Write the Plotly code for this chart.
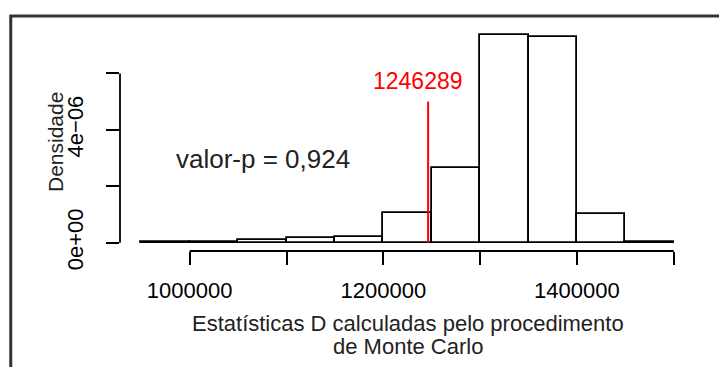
import plotly.graph_objects as go

# ---- data ----
bin_edges = [950000, 1000000, 1050000, 1100000, 1150000, 1200000, 1250000,
             1300000, 1350000, 1400000, 1450000, 1500000]
density = [0.02e-6, 0.02e-6, 0.10e-6, 0.15e-6, 0.21e-6, 1.06e-6, 2.65e-6,
           7.35e-6, 7.29e-6, 1.00e-6, 0.03e-6]
observed_stat = 1246289
p_value_text = "valor-p = 0,924"
x_tickvals = [1000000, 1100000, 1200000, 1300000, 1400000, 1500000]
x_ticktext = ["1000000", "", "1200000", "", "1400000", ""]
y_tickvals = [0, 2e-6, 4e-6, 6e-6]
y_ticktext = ["0e+00", "", "4e\u221206", ""]
x_title_lines = ["Estatísticas D calculadas pelo procedimento", "de Monte Carlo"]
y_title = "Densidade"
stat_line_top = 5e-6
pvalue_pos = (1076000, 2.95e-6)

centers = [(a + b) / 2 for a, b in zip(bin_edges[:-1], bin_edges[1:])]
widths = [b - a for a, b in zip(bin_edges[:-1], bin_edges[1:])]

xmin, xmax = bin_edges[0], bin_edges[-1]
xspan = xmax - xmin
ymax = max(density)

FONT = "Liberation Sans, Arial, sans-serif"

fig = go.Figure()
fig.add_trace(go.Bar(
    x=centers, y=density, width=widths,
    marker=dict(color="white", line=dict(color="black", width=1.8)),
    showlegend=False, hoverinfo="skip",
))

fig.update_layout(
    width=719, height=367,
    margin=dict(l=120, r=24, t=27, b=116),
    paper_bgcolor="white", plot_bgcolor="white",
    font=dict(family=FONT, size=22, color="black"),
    bargap=0,
    xaxis=dict(
        range=[xmin - 0.04 * xspan, xmax + 0.04 * xspan],
        showgrid=False, zeroline=False, showline=False,
        tickmode="array", tickvals=x_tickvals, ticktext=x_ticktext,
        ticks="outside", ticklen=13, tickwidth=1.8, tickcolor="black",
        tickfont=dict(size=22, color="black", family=FONT),
        ticklabelstandoff=7,
    ),
    yaxis=dict(
        range=[-0.04 * ymax, 1.04 * ymax],
        showgrid=False, zeroline=False, showline=False,
        tickmode="array", tickvals=y_tickvals, ticktext=y_ticktext,
        ticks="outside", ticklen=13, tickwidth=1.8, tickcolor="black",
        tickangle=-90,
        tickfont=dict(size=22, color="black", family=FONT),
        ticklabelstandoff=14,
    ),
)

shapes = []
# axis lines (R style, spanning only the ticks)
shapes.append(dict(type="line", xref="x", yref="paper",
                   x0=x_tickvals[0], x1=x_tickvals[-1], y0=0, y1=0,
                   line=dict(color="black", width=1.8)))
shapes.append(dict(type="line", xref="paper", yref="y",
                   x0=0, x1=0, y0=y_tickvals[0], y1=y_tickvals[-1],
                   line=dict(color="black", width=1.8)))
# observed statistic line
shapes.append(dict(type="line", xref="x", yref="y",
                   x0=observed_stat, x1=observed_stat, y0=0, y1=stat_line_top,
                   line=dict(color="red", width=2)))
# outer frame
shapes.append(dict(type="rect", xref="paper", yref="paper",
                   x0=-0.19, x1=2.0, y0=-1.0, y1=1.049,
                   line=dict(color="#333333", width=3), fillcolor="rgba(0,0,0,0)",
                   layer="below"))
fig.update_layout(shapes=shapes)

annotations = [
    dict(x=observed_stat, y=stat_line_top, xref="x", yref="y",
         text=str(observed_stat), showarrow=False, xshift=-10, yshift=21,
         font=dict(color="red", size=23, family=FONT)),
    dict(x=pvalue_pos[0], y=pvalue_pos[1], xref="x", yref="y",
         text=p_value_text, showarrow=False,
         font=dict(color="#222222", size=26, family=FONT)),
    dict(x=0.5, y=0, xref="paper", yref="paper", yanchor="middle",
         text=x_title_lines[0], showarrow=False, yshift=-72,
         font=dict(color="#222222", size=22, family=FONT)),
    dict(x=0.5, y=0, xref="paper", yref="paper", yanchor="middle",
         text=x_title_lines[1], showarrow=False, yshift=-95,
         font=dict(color="#222222", size=22, family=FONT)),
    dict(x=0, y=0.5, xref="paper", yref="paper", xanchor="center",
         text=y_title, showarrow=False, textangle=-90, xshift=-65, yshift=-3,
         font=dict(color="#222222", size=21, family=FONT)),
]
fig.update_layout(annotations=annotations)

fig.write_html("out.html")
